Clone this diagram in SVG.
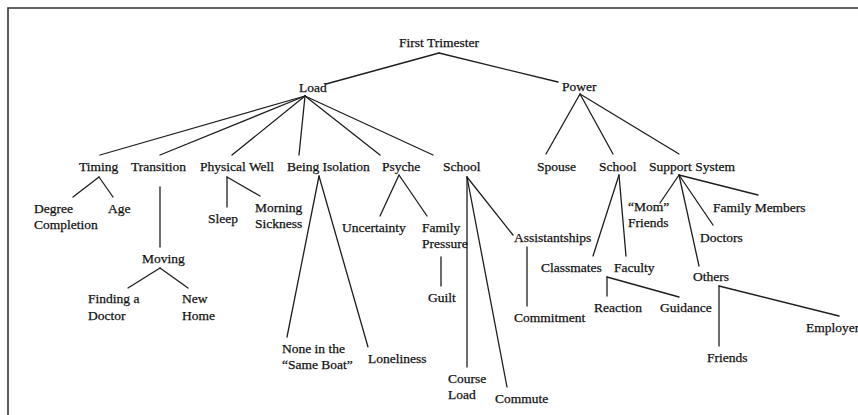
<svg xmlns="http://www.w3.org/2000/svg" width="858" height="415" viewBox="0 0 858 415">
<style>
text{font-family:"Liberation Serif","Times New Roman",serif;font-size:13.5px;fill:#111;stroke:#111;stroke-width:0.25}
.c line{stroke:#1e1e1e;stroke-width:1.3;stroke-linecap:round}
.frame{stroke:#333;stroke-width:1.6;fill:none}
</style>
<rect width="858" height="415" fill="#fff"/>
<path class="frame" d="M8,415 V8 H858"/>
<g class="c" id="connectors">
<line x1="439" y1="53" x2="326" y2="84"/>
<line x1="439" y1="53" x2="558" y2="82"/>
<line x1="305" y1="96" x2="100" y2="155"/>
<line x1="305" y1="96" x2="160" y2="155"/>
<line x1="305" y1="96" x2="232" y2="155"/>
<line x1="305" y1="96" x2="299" y2="155"/>
<line x1="305" y1="96" x2="380" y2="155"/>
<line x1="305" y1="96" x2="433" y2="155"/>
<line x1="580" y1="94" x2="546" y2="154"/>
<line x1="580" y1="94" x2="613" y2="154"/>
<line x1="580" y1="94" x2="679" y2="154"/>
<line x1="99" y1="177" x2="73" y2="197"/>
<line x1="99" y1="177" x2="113" y2="197"/>
<line x1="160" y1="187" x2="160" y2="247"/>
<line x1="160" y1="268" x2="128" y2="288"/>
<line x1="160" y1="268" x2="188" y2="288"/>
<line x1="227" y1="177" x2="227" y2="207"/>
<line x1="227" y1="177" x2="260" y2="196"/>
<line x1="319" y1="176" x2="287" y2="337"/>
<line x1="319" y1="176" x2="368" y2="347"/>
<line x1="399" y1="175" x2="380" y2="216"/>
<line x1="399" y1="175" x2="427" y2="216"/>
<line x1="441" y1="257" x2="441" y2="286"/>
<line x1="467" y1="177" x2="467" y2="367"/>
<line x1="467" y1="177" x2="507" y2="387"/>
<line x1="467" y1="177" x2="513" y2="235"/>
<line x1="527" y1="247" x2="527" y2="306"/>
<line x1="619" y1="175" x2="593" y2="256"/>
<line x1="619" y1="175" x2="626" y2="256"/>
<line x1="607" y1="277" x2="607" y2="296"/>
<line x1="607" y1="277" x2="679" y2="297"/>
<line x1="679" y1="175" x2="660" y2="203"/>
<line x1="679" y1="175" x2="699" y2="266"/>
<line x1="679" y1="175" x2="713" y2="225"/>
<line x1="679" y1="175" x2="758" y2="195"/>
<line x1="719" y1="286" x2="719" y2="346"/>
<line x1="719" y1="286" x2="839" y2="316"/>
</g>
<g id="first-trimester"><text x="399" y="47">First Trimester</text></g>
<g id="load"><text x="299" y="92">Load</text></g>
<g id="power"><text x="562" y="91">Power</text></g>
<g id="timing"><text x="79" y="171">Timing</text></g>
<g id="transition"><text x="131" y="171">Transition</text></g>
<g id="physical-well"><text x="200" y="171">Physical Well</text></g>
<g id="being-isolation"><text x="287" y="171">Being Isolation</text></g>
<g id="psyche"><text x="382" y="171">Psyche</text></g>
<g id="school-load"><text x="443" y="171">School</text></g>
<g id="spouse"><text x="537" y="171">Spouse</text></g>
<g id="school-power"><text x="599" y="171">School</text></g>
<g id="support-system"><text x="649" y="171">Support System</text></g>
<g id="degree-completion"><text x="34" y="213">Degree<tspan x="34" y="229">Completion</tspan></text></g>
<g id="age"><text x="108" y="213">Age</text></g>
<g id="moving"><text x="142" y="263">Moving</text></g>
<g id="finding-doctor"><text x="88" y="303">Finding a<tspan x="88" y="320">Doctor</tspan></text></g>
<g id="new-home"><text x="182" y="303">New<tspan x="182" y="320">Home</tspan></text></g>
<g id="sleep"><text x="208" y="223">Sleep</text></g>
<g id="morning-sickness"><text x="255" y="212">Morning<tspan x="255" y="228">Sickness</tspan></text></g>
<g id="same-boat"><text x="282" y="353">None in the<tspan x="282" y="369">“Same Boat”</tspan></text></g>
<g id="loneliness"><text x="368" y="363">Loneliness</text></g>
<g id="uncertainty"><text x="342" y="232">Uncertainty</text></g>
<g id="family-pressure"><text x="422" y="232">Family<tspan x="422" y="248">Pressure</tspan></text></g>
<g id="guilt"><text x="428" y="302">Guilt</text></g>
<g id="course-load"><text x="448" y="383">Course<tspan x="448" y="399">Load</tspan></text></g>
<g id="commute"><text x="495" y="403">Commute</text></g>
<g id="assistantships"><text x="514" y="242">Assistantships</text></g>
<g id="commitment"><text x="514" y="322">Commitment</text></g>
<g id="classmates"><text x="541" y="272">Classmates</text></g>
<g id="faculty"><text x="614" y="272">Faculty</text></g>
<g id="mom-friends"><text x="628" y="211">“Mom”<tspan x="628" y="227">Friends</tspan></text></g>
<g id="reaction"><text x="594" y="312">Reaction</text></g>
<g id="guidance"><text x="660" y="312">Guidance</text></g>
<g id="family-members"><text x="713" y="212">Family Members</text></g>
<g id="doctors"><text x="700" y="242">Doctors</text></g>
<g id="others"><text x="693" y="281">Others</text></g>
<g id="friends"><text x="707" y="362">Friends</text></g>
<g id="employer"><text x="806" y="332">Employer</text></g>
</svg>
